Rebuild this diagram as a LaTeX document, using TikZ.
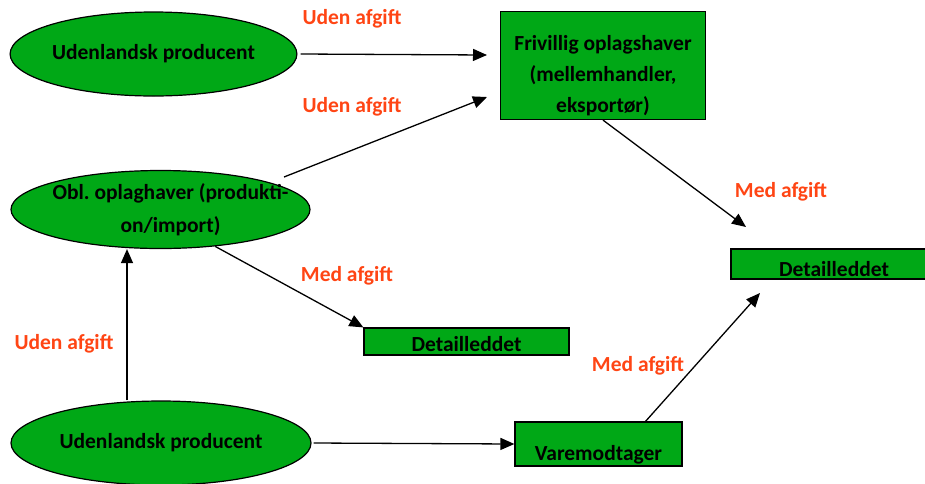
\documentclass[tikz,border=0pt]{standalone}
\usepackage{fontspec}
\setmainfont{Carlito}
\usetikzlibrary{shapes.geometric,arrows.meta}
\definecolor{boxgreen}{RGB}{0,168,22}
\definecolor{afgiftred}{RGB}{255,69,20}

\begin{document}
\begin{tikzpicture}[x=1pt,y=-1pt,
  every node/.style={font=\fontsize{21.5}{31}\selectfont\bfseries, inner sep=0pt},
  oval/.style={ellipse, draw=black, line width=1.2pt, fill=boxgreen},
  kasse/.style={rectangle, draw=black, line width=1.2pt, fill=boxgreen},
  afgift/.style={text=afgiftred},
  pil/.style={draw=black, line width=1.3pt, -{Triangle[length=14pt,width=12pt]}}]
\useasboundingbox (0,0) rectangle (925,483);
\node [oval, minimum width=285pt, minimum height=84pt] (udl1) at (153.5,54) {Udenlandsk producent};
\node [oval, minimum width=299pt, minimum height=78pt, inner xsep=-30pt, align=center,
  font=\fontsize{21.5}{33}\selectfont\bfseries] (obl) at (160.5,209.5)
  {\hspace*{20pt}Obl.\ oplaghaver (produkti-\\\hspace*{20pt}on/import)};
\node [oval, minimum width=300pt, minimum height=84pt] (udl2) at (161,443) {Udenlandsk producent};
\node [kasse, minimum width=205pt, minimum height=108pt, align=center] (friv) at (603,65.5)
  {\rule{0pt}{35pt}Frivillig oplagshaver\\(mellemhandler,\\eksportør)};
\node [kasse, minimum width=205pt, minimum height=27pt, text height=19pt, text depth=0pt] (det1) at (466.5,341.5) {Detailleddet};
\node [kasse, minimum width=206pt, minimum height=30pt, text height=24pt, text depth=0pt] (det2) at (834,264) {Detailleddet};
\node [kasse, minimum width=167pt, minimum height=44pt, text height=32pt, text depth=0pt] (vm) at (598.5,444) {Varemodtager};
\node [afgift] (ua1) at (352,19) {Uden afgift};
\node [afgift] (ua2) at (352,107) {Uden afgift};
\node [afgift] (ma1) at (781,192) {Med afgift};
\node [afgift] (ma2) at (347,276) {Med afgift};
\node [afgift] (ua3) at (64,344) {Uden afgift};
\node [afgift] (ma3) at (638,366) {Med afgift};
\coordinate (p1) at (487,55);
\coordinate (p2s) at (284,177);
\coordinate (p2) at (487,97);
\coordinate (p3) at (746,227);
\coordinate (p5) at (127,0);
\coordinate (p7) at (760,293);
\draw [pil] ([xshift=3pt]udl1.east) -- (p1);
\draw [pil] (p2s) -- (p2);
\draw [pil] (friv.south) -- (p3);
\draw [pil] (obl.-34) -- (det1.north west);
\draw [pil] (udl2.north -| p5) -- (obl.south -| p5);
\draw [pil] ([xshift=2pt]udl2.east) -- (vm.west);
\draw [pil] ([xshift=47pt]vm.north) -- (p7);
\end{tikzpicture}
\end{document}
